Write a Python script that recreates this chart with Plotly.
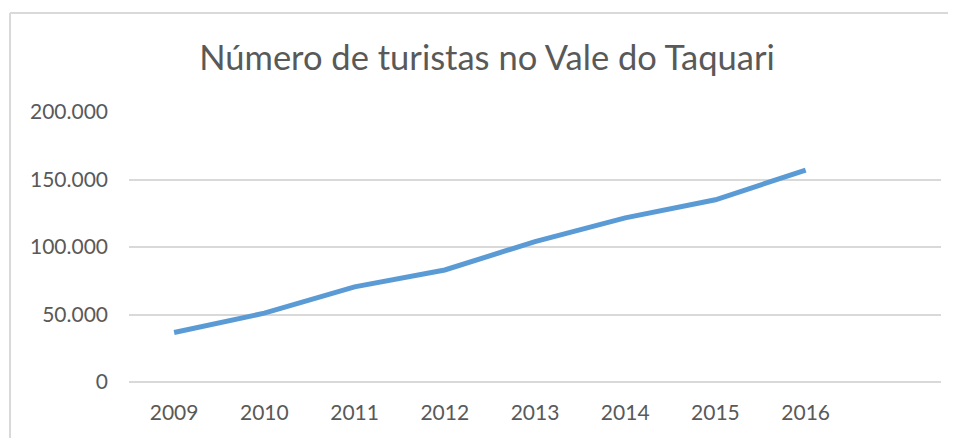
import plotly.graph_objects as go

years = ["2009", "2010", "2011", "2012", "2013", "2014", "2015", "2016"]
turistas = [36700, 51000, 70500, 83000, 104000, 121600, 135000, 157000]
y_ticks = [0, 50000, 100000, 150000, 200000]
title_text = "Número de turistas no Vale do Taquari"

# page body has an 8px margin, so the figure is drawn 8px smaller and offset
W, H = 948, 430
L, R, T, B = 121, 15, 104, 56
pw, ph = W - L - R, H - T - B

fig = go.Figure()
fig.add_trace(go.Scatter(
    x=list(range(len(years))), y=turistas, mode="lines",
    line=dict(color="#5B9BD5", width=5), hoverinfo="skip", showlegend=False,
))

# chart frame (left and top border)
bx = (2 - L) / pw
by = 1 + (T - 5) / ph
fig.add_shape(type="line", xref="paper", yref="paper", x0=bx, x1=bx, y0=-B / ph, y1=by,
              line=dict(color="#D9D9D9", width=2))
fig.add_shape(type="line", xref="paper", yref="paper", x0=bx, x1=1 + R / pw, y0=by, y1=by,
              line=dict(color="#D9D9D9", width=2))

fig.update_layout(
    width=W, height=H,
    margin=dict(l=L, r=R, t=T, b=B),
    paper_bgcolor="white", plot_bgcolor="white",
    separators=",.",
    font=dict(family="Lato", color="#595959", size=21),
    title=dict(text=title_text, x=479 / W, xanchor="center", xref="container",
               y=1 - 49.5 / H, yanchor="middle", yref="container",
               font=dict(size=34.5, color="#595959", family="Lato")),
    xaxis=dict(range=[-0.5, 8.5], tickmode="array", tickvals=list(range(len(years))), ticktext=years,
               showgrid=False, zeroline=False, showline=False, ticks="", ticklabelstandoff=16,
               tickfont=dict(size=21, color="#595959")),
    yaxis=dict(range=[0, 200000], tickmode="array", tickvals=y_ticks, tickformat=",d",
               showgrid=True, gridcolor="#D9D9D9", gridwidth=1.5,
               zeroline=True, zerolinecolor="#D9D9D9", zerolinewidth=1.5,
               showline=False, ticks="", ticklabelstandoff=20,
               tickfont=dict(size=21, color="#595959")),
)

fig.write_html("out.html")
